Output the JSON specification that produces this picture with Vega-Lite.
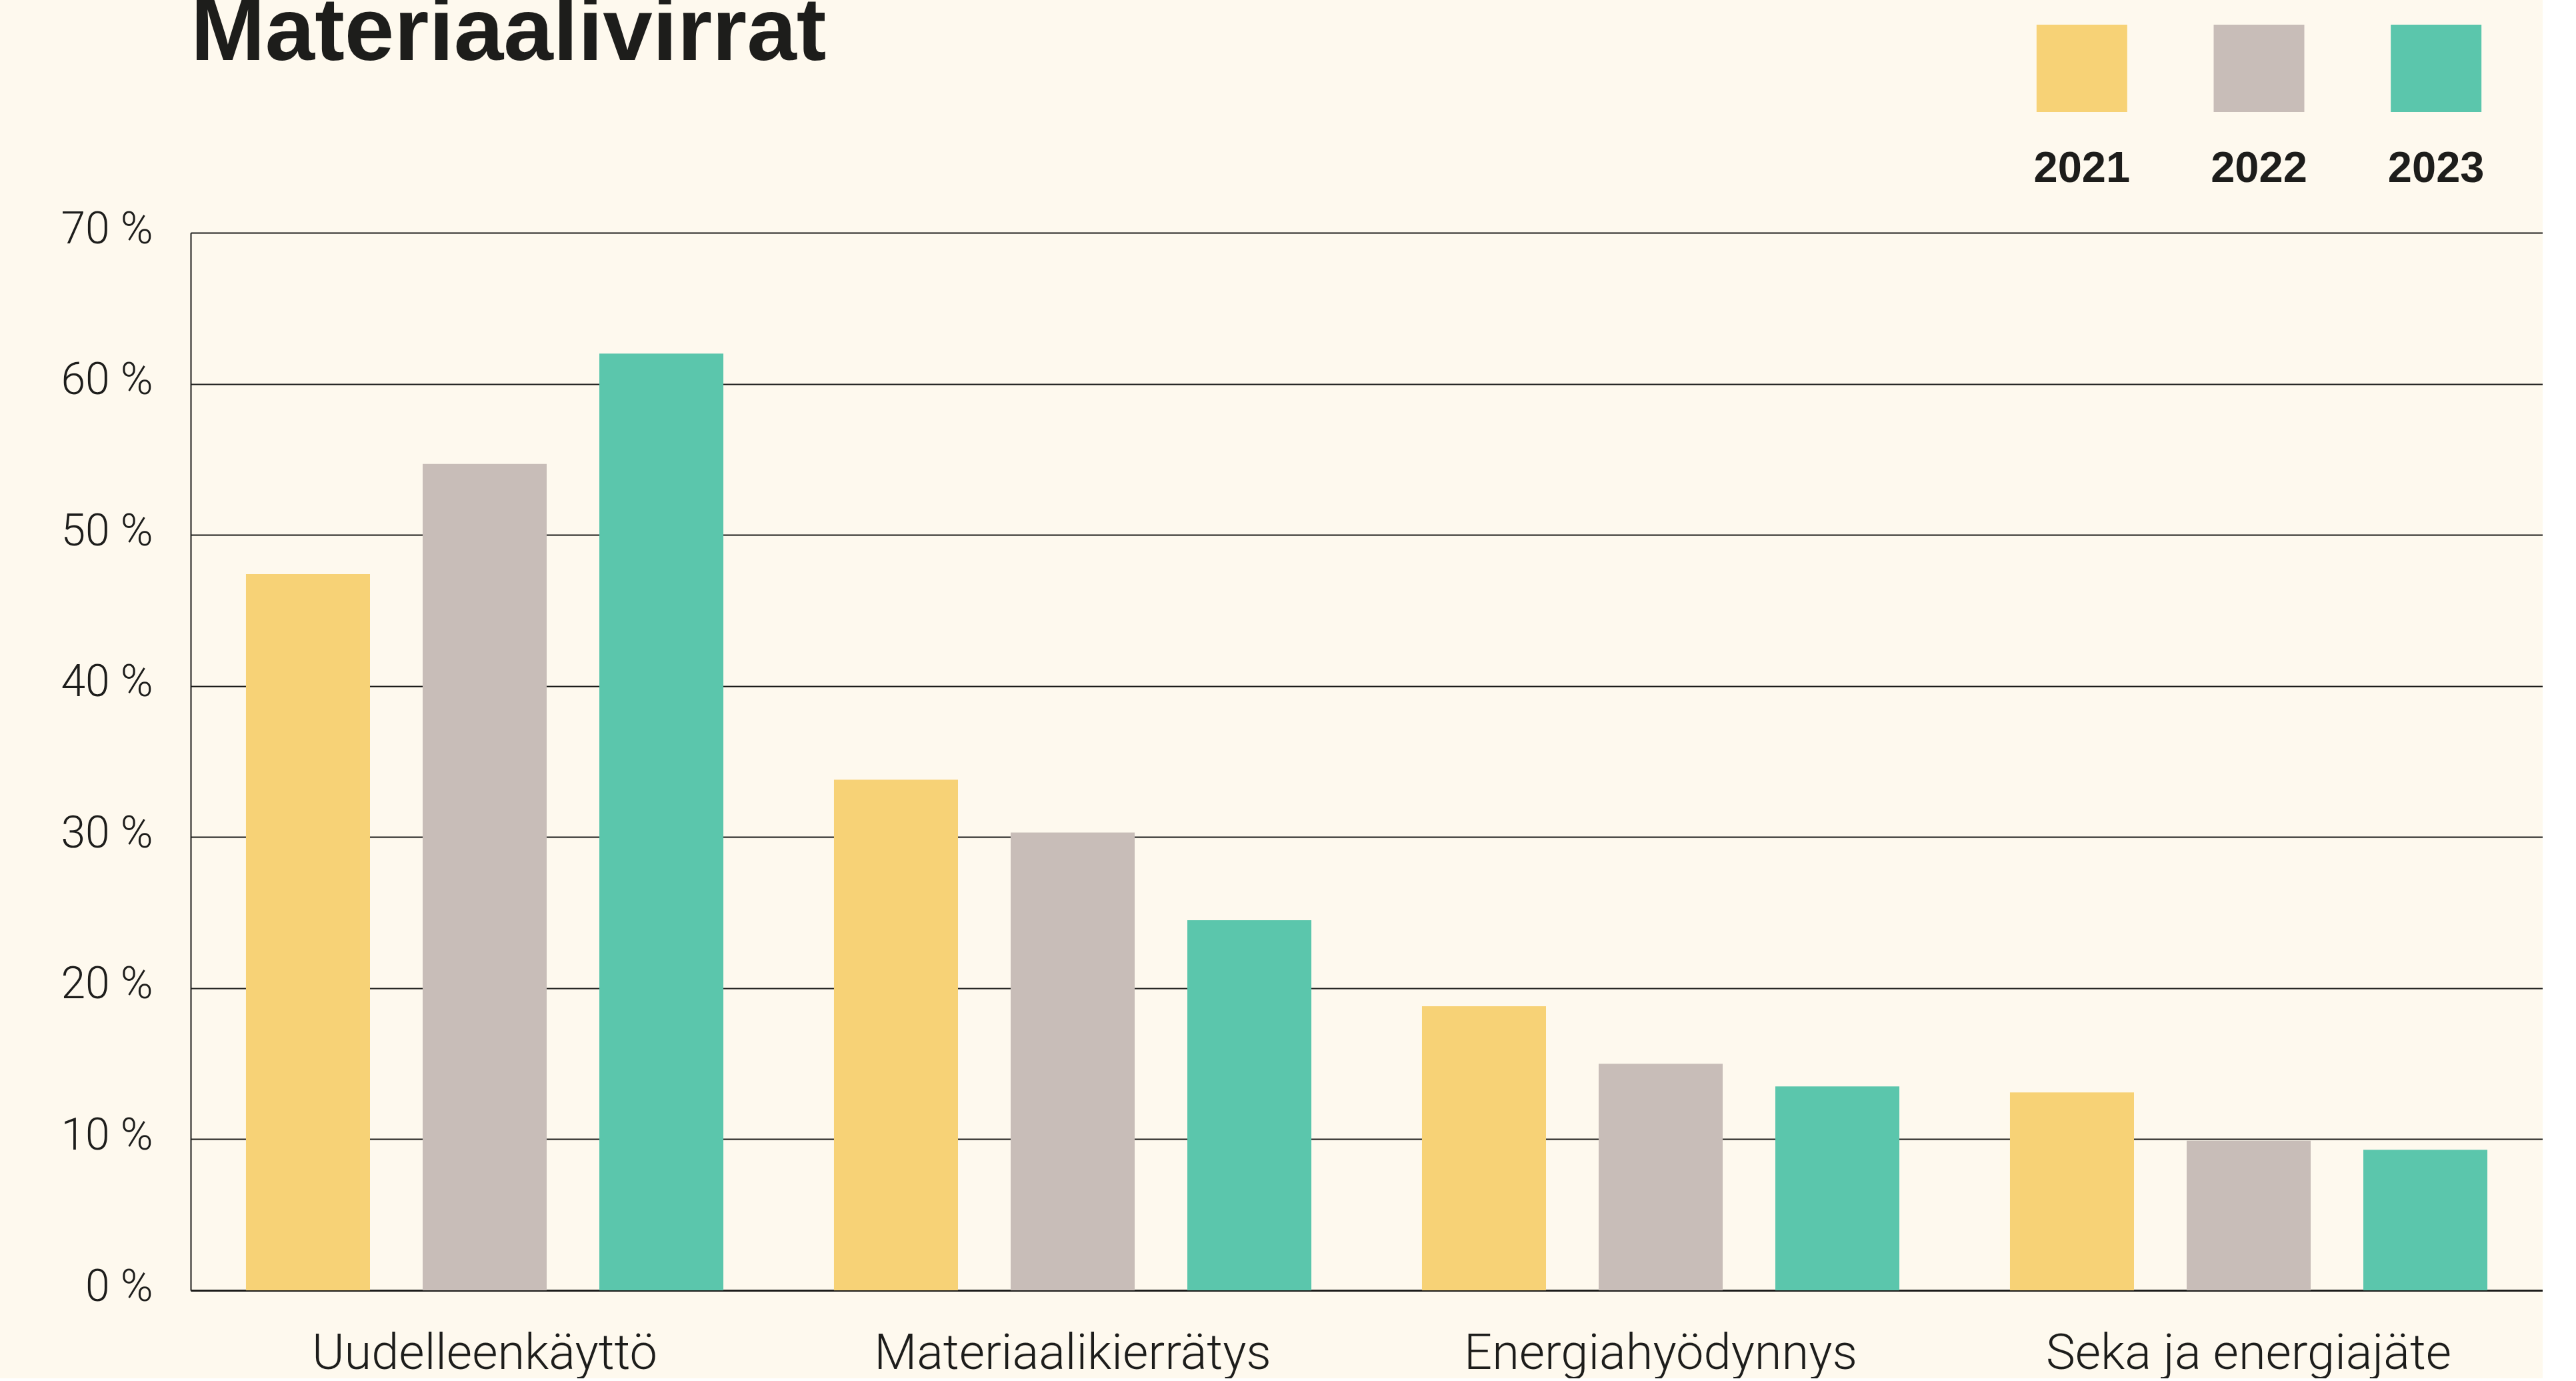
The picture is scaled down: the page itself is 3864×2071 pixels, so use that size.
{
  "$schema": "https://vega.github.io/schema/vega-lite/v6.json",
  "background": "#FEF9EE",
  "padding": {"left": 90, "top": -17, "right": 0, "bottom": 0},
  "config": {
    "view": {"stroke": null},
    "font": "Roboto"
  },
  "datasets": {
    "flows": [
      {"category": "Uudelleenkäyttö", "year": "2021", "share": 47.4},
      {"category": "Uudelleenkäyttö", "year": "2022", "share": 54.7},
      {"category": "Uudelleenkäyttö", "year": "2023", "share": 62.0},
      {"category": "Materiaalikierrätys", "year": "2021", "share": 33.8},
      {"category": "Materiaalikierrätys", "year": "2022", "share": 30.3},
      {"category": "Materiaalikierrätys", "year": "2023", "share": 24.5},
      {"category": "Energiahyödynnys", "year": "2021", "share": 18.8},
      {"category": "Energiahyödynnys", "year": "2022", "share": 15.0},
      {"category": "Energiahyödynnys", "year": "2023", "share": 13.5},
      {"category": "Seka ja energiajäte", "year": "2021", "share": 13.1},
      {"category": "Seka ja energiajäte", "year": "2022", "share": 9.9},
      {"category": "Seka ja energiajäte", "year": "2023", "share": 9.3}
    ]
  },
  "bounds": "flush",
  "spacing": 312,
  "vconcat": [
    {
      "bounds": "flush",
      "spacing": 0,
      "hconcat": [
        {
          "width": 2704,
          "height": 131,
          "title": {
            "text": "Materiaalivirrat",
            "anchor": "start",
            "frame": "group",
            "orient": "top",
            "offset": 0,
            "font": "Liberation Sans",
            "fontSize": 134,
            "fontWeight": "bold",
            "color": "#1D1D1B",
            "baseline": "alphabetic",
            "dy": 187
          },
          "data": {"name": "flows"},
          "transform": [{"filter": "false"}],
          "mark": {"type": "bar"},
          "encoding": {}
        },
        {
          "width": 797,
          "height": 131,
          "data": {"name": "flows"},
          "transform": [
            {"aggregate": [{"op": "count", "as": "n"}], "groupby": ["year"]}
          ],
          "mark": {"type": "bar"},
          "encoding": {
            "x": {
              "field": "year",
              "type": "nominal",
              "scale": {"paddingInner": 0.488, "paddingOuter": 0.244},
              "axis": {
                "orient": "bottom",
                "title": null,
                "domain": false,
                "ticks": false,
                "tickSize": 0,
                "labelAngle": 0,
                "labelFont": "Liberation Sans",
                "labelFontSize": 65,
                "labelFontWeight": "bold",
                "labelColor": "#1D1D1B",
                "labelBaseline": "alphabetic",
                "labelPadding": 104
              }
            },
            "color": {
              "field": "year",
              "type": "nominal",
              "scale": {"domain": ["2021", "2022", "2023"], "range": ["#F7D276", "#C8BDB8", "#5BC6AC"]},
              "legend": null
            }
          }
        }
      ]
    },
    {
      "width": 3528,
      "height": 1586,
      "data": {"name": "flows"},
      "mark": {"type": "bar"},
      "encoding": {
        "x": {
          "field": "category",
          "type": "nominal",
          "sort": null,
          "scale": {"paddingInner": 0, "paddingOuter": 0},
          "axis": {
            "title": null,
            "domain": true,
            "domainColor": "#1D1D1B",
            "domainWidth": 3,
            "ticks": false,
            "tickSize": 0,
            "grid": false,
            "labelAngle": 0,
            "labelFontSize": 74,
            "labelFontWeight": 300,
            "labelColor": "#1D1D1B",
            "labelBaseline": "alphabetic",
            "labelPadding": 117,
            "labelLimit": 2000
          }
        },
        "xOffset": {
          "field": "year",
          "type": "nominal",
          "scale": {"paddingInner": 0.298, "paddingOuter": 0.313}
        },
        "y": {
          "field": "share",
          "type": "quantitative",
          "scale": {"domain": [0, 70], "nice": false},
          "axis": {
            "title": null,
            "values": [0, 10, 20, 30, 40, 50, 60, 70],
            "labelExpr": "datum.value + ' %'",
            "domain": true,
            "domainColor": "#1D1D1B",
            "domainWidth": 2,
            "ticks": false,
            "tickSize": 0,
            "grid": true,
            "gridColor": "#1D1D1B",
            "gridWidth": 2,
            "labelFontSize": 66,
            "labelFontWeight": 300,
            "labelColor": "#1D1D1B",
            "labelBaseline": "alphabetic",
            "labelOffset": 15,
            "labelPadding": 57
          }
        },
        "color": {
          "field": "year",
          "type": "nominal",
          "scale": {"domain": ["2021", "2022", "2023"], "range": ["#F7D276", "#C8BDB8", "#5BC6AC"]},
          "legend": null
        }
      }
    }
  ]
}
